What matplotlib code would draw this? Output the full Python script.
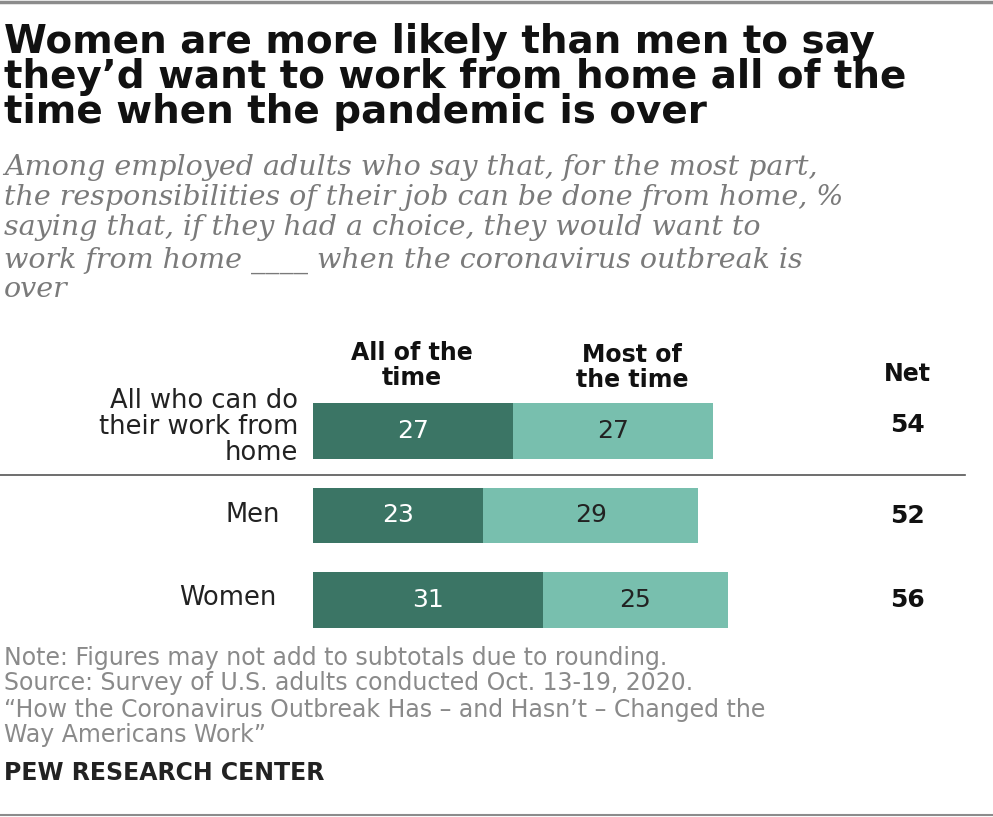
import matplotlib.pyplot as plt
from matplotlib.lines import Line2D

W, H = 993, 817

groups = ['All who can do\ntheir work from\nhome', 'Men', 'Women']
all_time = [27, 23, 31]
most_time = [27, 29, 25]
net = [54, 52, 56]
col_labels = ['All of the\ntime', 'Most of\nthe time', 'Net']

title_lines = ["Women are more likely than men to say",
               "they\u2019d want to work from home all of the",
               "time when the pandemic is over"]
subtitle_lines = ["Among employed adults who say that, for the most part,",
                  "the responsibilities of their job can be done from home, %",
                  "saying that, if they had a choice, they would want to",
                  "work from home ____ when the coronavirus outbreak is",
                  "over"]
note_lines = ["Note: Figures may not add to subtotals due to rounding.",
              "Source: Survey of U.S. adults conducted Oct. 13-19, 2020.",
              "\u201cHow the Coronavirus Outbreak Has \u2013 and Hasn\u2019t \u2013 Changed the",
              "Way Americans Work\u201d"]

dark = '#3b7565'
light = '#78bfae'

fig = plt.figure(figsize=(W / 100, H / 100), dpi=100)

def fx(px):
    return px / W

def fy(py):
    return 1 - py / H

# frame lines top and bottom
fig.add_artist(Line2D([0, 1], [fy(1.5), fy(1.5)], color='#8c8c8c', lw=2.5))
fig.add_artist(Line2D([0, 1], [fy(815), fy(815)], color='#8c8c8c', lw=1.5))

for line, base in zip(title_lines, [53, 88, 123]):
    fig.text(fx(4), fy(base), line, fontsize=28, fontweight='bold',
             family='DejaVu Sans', va='baseline', ha='left', color='#111111')

for line, base in zip(subtitle_lines, [175, 205, 235, 268, 297]):
    fig.text(fx(4), fy(base), line, fontsize=20.5, style='italic',
             family='DejaVu Serif', va='baseline', ha='left', color='#7a7a7a')

# bar axes
px_per_unit = 400 / 54
left_px = 313
row_top, row_step = 431 - 42.25, 84.5
ax = fig.add_axes([fx(left_px), fy(row_top + 3 * row_step), fx(W - left_px), 3 * row_step / H])
ax.set_xlim(0, (W - left_px) / px_per_unit)
ax.set_ylim(2.5, -0.5)
ax.axis('off')

ypos = range(len(groups))
ax.barh(ypos, all_time, height=0.66, color=dark)
ax.barh(ypos, most_time, left=all_time, height=0.66, color=light)
for i in ypos:
    ax.text(all_time[i] / 2, i, str(all_time[i]), ha='center', va='center',
            color='white', fontsize=18, family='DejaVu Sans')
    ax.text(all_time[i] + most_time[i] / 2, i, str(most_time[i]), ha='center',
            va='center', color='#222222', fontsize=18, family='DejaVu Sans')

# column headers
hdr = dict(ha='center', va='baseline', fontsize=17, fontweight='bold',
           family='DejaVu Sans', color='#111111')
h1, h2 = col_labels[0].split('\n')
fig.text(fx(412), fy(360), h1, **hdr)
fig.text(fx(412), fy(385), h2, **hdr)
h1, h2 = col_labels[1].split('\n')
fig.text(fx(632), fy(362), h1, **hdr)
fig.text(fx(632), fy(387), h2, **hdr)
fig.text(fx(907), fy(381), col_labels[2], **hdr)

# row labels and net values
label_x = [298, 280, 277]
label_base = [[408, 434, 460], [522], [605]]
net_base = [432, 523, 607]
for i, g in enumerate(groups):
    for part, base in zip(g.split('\n'), label_base[i]):
        fig.text(fx(label_x[i]), fy(base), part, ha='right', va='baseline',
                 fontsize=18.5, family='DejaVu Sans', color='#222222')
    fig.text(fx(907), fy(net_base[i]), str(net[i]), ha='center', va='baseline',
             fontsize=18, fontweight='bold', family='DejaVu Sans', color='#111111')

# divider
fig.add_artist(Line2D([0, fx(965)], [fy(475), fy(475)], color='#555555', lw=1.2))

for line, base in zip(note_lines, [665, 690, 717, 742]):
    fig.text(fx(4), fy(base), line, ha='left', va='baseline', fontsize=17,
             family='DejaVu Sans', color='#8a8a8a')
fig.text(fx(4), fy(780), 'PEW RESEARCH CENTER', ha='left', va='baseline', fontsize=17,
         fontweight='bold', family='DejaVu Sans', color='#222222')

fig.savefig('out.png', dpi=100)
